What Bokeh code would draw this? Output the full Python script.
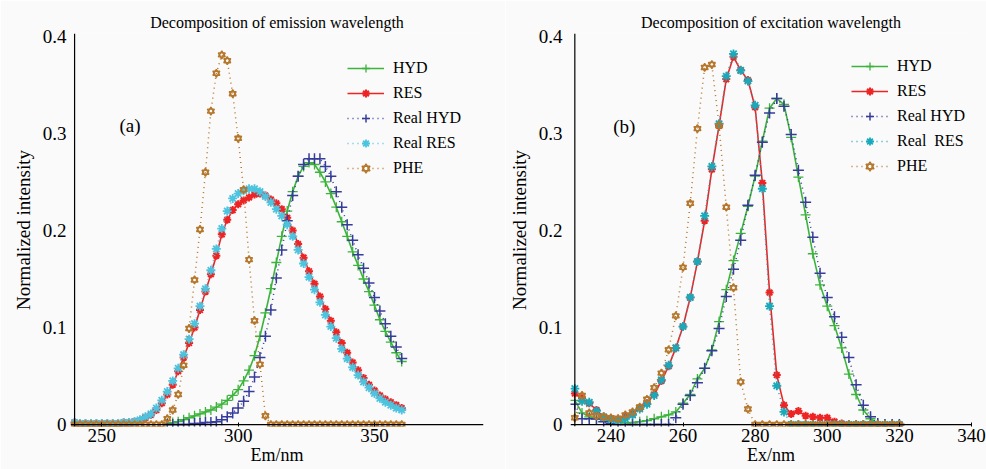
from bokeh.plotting import figure
from bokeh.models import Range1d, FixedTicker, Legend, LegendItem, Label, Span
from bokeh.layouts import row
from bokeh.embed import file_html
from bokeh.resources import INLINE

FONT = "Liberation Serif"

# ---------------- Emission panel (a) ----------------
em_x = [240, 242, 244, 246, 248, 250, 252, 254, 256, 258, 260, 262, 264, 266, 268,
        270, 272, 274, 276, 278, 280, 282, 284, 286, 288, 290, 292, 294, 296, 298,
        300, 302, 304, 306, 308, 310, 312, 314, 316, 318, 320, 322, 324, 326, 328,
        330, 332, 334, 336, 338, 340, 342, 344, 346, 348, 350, 352, 354, 356, 358, 360]
em_res = [0.002, 0.001, 0.001, 0.001, 0.001, 0.001, 0.001, 0.001, 0.001, 0.002, 0.002, 0.003,
          0.004, 0.007, 0.010, 0.015, 0.022, 0.031, 0.041, 0.055, 0.069, 0.084, 0.100, 0.118,
          0.137, 0.155, 0.174, 0.196, 0.211, 0.221, 0.227, 0.231, 0.234, 0.237, 0.238, 0.236,
          0.232, 0.228, 0.222, 0.213, 0.200, 0.186, 0.172, 0.158, 0.145, 0.132, 0.119, 0.107,
          0.095, 0.084, 0.074, 0.064, 0.056, 0.048, 0.041, 0.035, 0.030, 0.026, 0.023, 0.020, 0.017]
em_real_res = [0.002, 0.001, 0.001, 0.001, 0.001, 0.001, 0.001, 0.001, 0.001, 0.002, 0.002, 0.003,
               0.005, 0.008, 0.011, 0.017, 0.025, 0.034, 0.045, 0.058, 0.072, 0.088, 0.104, 0.122,
               0.140, 0.159, 0.181, 0.202, 0.220, 0.233, 0.238, 0.241, 0.243, 0.243, 0.240, 0.235,
               0.229, 0.222, 0.215, 0.206, 0.194, 0.180, 0.166, 0.152, 0.139, 0.126, 0.113, 0.101,
               0.089, 0.078, 0.068, 0.059, 0.051, 0.044, 0.038, 0.032, 0.027, 0.023, 0.020, 0.017, 0.015]
em_phe = [0, 0, 0, 0, 0, 0, 0, 0, 0, 0, 0, 0, 0, 0, 0, 0, 0,
          0.006, 0.015, 0.031, 0.061, 0.099, 0.149, 0.201, 0.260, 0.323, 0.362, 0.381, 0.375,
          0.341, 0.295, 0.242, 0.170, 0.107, 0.062, 0.009,
          0, 0, 0, 0, 0, 0, 0, 0, 0, 0, 0, 0, 0, 0, 0, 0, 0, 0, 0, 0, 0, 0, 0, 0, 0]
em_hyd_x = [274, 276, 278, 280, 282, 284, 286, 288, 290, 292, 294, 296, 298, 300,
            302, 304, 306, 308, 310, 312, 314, 316, 318, 320, 322, 324, 326, 328, 330,
            332, 334, 336, 338, 340, 342, 344, 346, 348, 350, 352, 354, 356, 358, 360]
em_hyd = [0.001, 0.002, 0.003, 0.005, 0.007, 0.009, 0.011, 0.013, 0.015, 0.018, 0.021, 0.025, 0.030, 0.036,
          0.045, 0.056, 0.071, 0.091, 0.115, 0.140, 0.167, 0.194, 0.220, 0.240,
          0.256, 0.266, 0.270, 0.268, 0.260, 0.250, 0.238, 0.224, 0.209, 0.194,
          0.178, 0.164, 0.150, 0.137, 0.123, 0.108, 0.096, 0.085, 0.074, 0.065]
em_real_hyd = [0.000, 0.000, 0.000, 0.000, 0.000, 0.001, 0.001, 0.002, 0.002, 0.003, 0.005, 0.008, 0.012, 0.017,
               0.024, 0.034, 0.049, 0.069, 0.091, 0.118, 0.151, 0.180, 0.210, 0.236,
               0.256, 0.268, 0.274, 0.274, 0.274, 0.266, 0.256, 0.240, 0.224, 0.206,
               0.190, 0.175, 0.161, 0.146, 0.131, 0.117, 0.104, 0.091, 0.080, 0.068]
em_ticks = [250, 300, 350]

# ---------------- Excitation panel (b) ----------------
ex_x = [230, 232, 234, 236, 238, 240, 242, 244, 246, 248, 250, 252, 254, 256, 258,
        260, 262, 264, 266, 268, 270, 272, 274, 276, 278, 280, 282, 284, 286, 288,
        290, 292, 294, 296, 298, 300, 302, 304, 306, 308, 310, 312, 314, 316, 318, 320]
ex_res = [0.032, 0.027, 0.022, 0.015, 0.008, 0.006, 0.006, 0.008, 0.011, 0.017,
          0.022, 0.031, 0.045, 0.060, 0.079, 0.101, 0.131, 0.168, 0.210, 0.263,
          0.308, 0.356, 0.379, 0.365, 0.355, 0.327, 0.249, 0.136, 0.051, 0.020,
          0.011, 0.014, 0.009, 0.008, 0.007, 0.007, 0.003, 0.001, 0, 0,
          0, 0, 0, 0, 0, 0]
ex_real_res = [0.037, 0.024, 0.023, 0.014, 0.008, 0.005, 0.004, 0.006, 0.010, 0.016,
               0.021, 0.030, 0.046, 0.061, 0.079, 0.101, 0.131, 0.168, 0.215, 0.266,
               0.310, 0.359, 0.382, 0.365, 0.354, 0.329, 0.243, 0.122, 0.040, 0.013,
               0, 0, 0, 0, 0, 0, 0, 0, 0, 0, 0, 0, 0, 0, 0, 0]
ex_hyd = [0.025, 0.012, 0.008, 0.006, 0.005, 0.004, 0.003, 0.002, 0.002, 0.003,
          0.004, 0.006, 0.008, 0.010, 0.013, 0.022, 0.031, 0.047, 0.058, 0.077,
          0.106, 0.139, 0.169, 0.197, 0.225, 0.256, 0.292, 0.326, 0.336, 0.330,
          0.296, 0.255, 0.216, 0.176, 0.144, 0.122, 0.102, 0.079, 0.052, 0.031,
          0.015, 0.006, 0.001, 0, 0, 0]
ex_real_hyd = [0.021, 0.006, 0.006, 0.006, 0.003, 0.001, 0, 0, 0, 0,
               0, 0, 0, 0, 0.007, 0.021, 0.030, 0.043, 0.058, 0.076,
               0.099, 0.132, 0.160, 0.190, 0.226, 0.257, 0.291, 0.321, 0.336, 0.328,
               0.299, 0.262, 0.229, 0.193, 0.156, 0.131, 0.111, 0.090, 0.069, 0.041,
               0.020, 0.008, 0.001, 0, 0, 0]
ex_phe = [0.007, 0.030, 0.012, 0.009, 0.008, 0.007, 0.006, 0.010, 0.013, 0.018,
          0.026, 0.038, 0.053, 0.077, 0.112, 0.162, 0.228, 0.305, 0.368, 0.371,
          0.308, 0.224, 0.141, 0.044, 0.016, 0, 0, 0, 0, 0,
          0, 0, 0, 0, 0, 0, 0, 0, 0, 0, 0, 0, 0, 0, 0, 0]
ex_ticks = [240, 260, 280, 300, 320, 340]

y_ticks = [0, 0.1, 0.2, 0.3, 0.4]
series_names = ["HYD", "RES", "Real HYD", "Real RES", "PHE"]

C_HYD = "#3cb43c"
C_RES = "#ee2424"
C_RHYD = "#363c9a"
C_PHE = "#b5772c"
BG = "#fafafa"


def make_panel(title, xlabel, tag, x, hx, hyd, res, rhyd, rres, phe,
               x0, xs, x1, xticks, width, bl, br, tick_standoff, rres_color, rres_label,
               legend_loc, tag_pos):
    p = figure(width=width, height=469, output_backend="svg", toolbar_location=None,
               x_range=Range1d(xs, x1), y_range=Range1d(-0.002, 0.403),
               min_border_left=bl, min_border_right=br, min_border_top=33,
               min_border_bottom=43,
               background_fill_color=BG, border_fill_color=BG, outline_line_color=None)
    p.grid.visible = False
    p.title.text = title
    p.title.align = "center"
    p.title.text_font = FONT
    p.title.text_font_size = "16px"
    p.title.text_font_style = "normal"
    p.title.text_color = "black"
    p.title.standoff = 6

    p.xaxis.ticker = FixedTicker(ticks=xticks)
    p.yaxis.ticker = FixedTicker(ticks=y_ticks)
    p.yaxis.major_label_overrides = {0: "0"}
    for ax in (p.xaxis[0], p.yaxis[0]):
        ax.axis_line_color = None
        ax.major_tick_line_color = "black"
        ax.minor_tick_line_color = None
        ax.major_label_text_font = FONT
        ax.major_label_text_font_size = "19px"
        ax.major_label_text_color = "black"
        ax.axis_label_text_font = FONT
        ax.axis_label_text_font_size = "19px"
        ax.axis_label_text_font_style = "normal"
        ax.axis_label_text_color = "black"
    p.xaxis.axis_label_text_font_size = "18px"
    p.xaxis.major_tick_in = 4
    p.xaxis.major_tick_out = 0
    p.yaxis.major_tick_in = 0
    p.yaxis.major_tick_out = 0
    p.xaxis.major_label_standoff = 2
    p.xaxis.axis_label_standoff = 0
    p.yaxis.major_label_standoff = tick_standoff
    p.yaxis.axis_label_standoff = 6
    p.xaxis.axis_label = xlabel
    p.yaxis.axis_label = "Normalized intensity"

    # axis lines through the data origin
    p.add_layout(Span(location=0, dimension="width", line_color="black", line_width=1.2))
    p.add_layout(Span(location=x0, dimension="height", line_color="black", line_width=1.2))

    r_hyd_l = p.line(hx, hyd, line_color=C_HYD, line_width=1.6)
    r_hyd_m = p.scatter(hx, hyd, marker="cross", size=10, line_color=C_HYD, line_width=1.3)
    r_res_l = p.line(x, res, line_color=C_RES, line_width=1.6)
    r_res_m = p.scatter(x, res, marker="asterisk", size=8, line_color=C_RES, line_width=2)
    r_rhyd_l = p.line(hx, rhyd, line_color=C_RHYD, line_width=1.5, line_dash="1 4")
    r_rhyd_m = p.scatter(hx, rhyd, marker="cross", size=11, line_color=C_RHYD, line_width=1.5)
    r_rres_l = p.line(x, rres, line_color=rres_color, line_width=1.5, line_dash="1 4")
    r_rres_m = p.scatter(x, rres, marker="asterisk", size=9, line_color=rres_color, line_width=1.8)
    r_phe_l = p.line(x, phe, line_color=C_PHE, line_width=1.5, line_dash="1 4")
    r_phe_a = p.scatter(x, phe, marker="triangle", size=7, line_color=C_PHE,
                        fill_color=None, line_width=1.4)
    r_phe_b = p.scatter(x, phe, marker="inverted_triangle", size=7, line_color=C_PHE,
                        fill_color=None, line_width=1.4)

    items = [
        LegendItem(label=series_names[0], renderers=[r_hyd_l, r_hyd_m]),
        LegendItem(label=series_names[1], renderers=[r_res_l, r_res_m]),
        LegendItem(label=series_names[2], renderers=[r_rhyd_l, r_rhyd_m]),
        LegendItem(label=rres_label, renderers=[r_rres_l, r_rres_m]),
        LegendItem(label=series_names[4], renderers=[r_phe_l, r_phe_a, r_phe_b]),
    ]
    leg = Legend(items=items, location=legend_loc, glyph_width=37, glyph_height=20,
                 label_height=20, spacing=5, padding=0, margin=0, label_standoff=9,
                 label_text_font=FONT, label_text_font_size="16px",
                 label_text_color="black", border_line_color=None,
                 background_fill_alpha=0)
    p.add_layout(leg)

    p.add_layout(Label(x=tag_pos[0], y=tag_pos[1], text=tag, text_font=FONT,
                       text_font_size="19px", text_align="center",
                       text_baseline="middle", text_color="black"))
    return p


pa = make_panel("Decomposition of emission wavelength", "Em/nm", "(a)",
                em_x, em_hyd_x, em_hyd, em_res, em_real_hyd, em_real_res, em_phe,
                240, 238.5, 390, em_ticks, 505, 70, 22, 4, "#4cc4e0", "Real RES",
                (277, 248), (260.3, 0.308))
pb = make_panel("Decomposition of excitation wavelength", "Ex/nm", "(b)",
                ex_x, ex_x, ex_hyd, ex_res, ex_real_hyd, ex_real_res, ex_phe,
                230, 228.8, 340, ex_ticks, 481, 64, 15, 8, "#18aabb", "Real  RES",
                (281, 250), (243.7, 0.307))

layout = row(pa, pb)
open("out.html", "w").write(file_html(layout, INLINE))
